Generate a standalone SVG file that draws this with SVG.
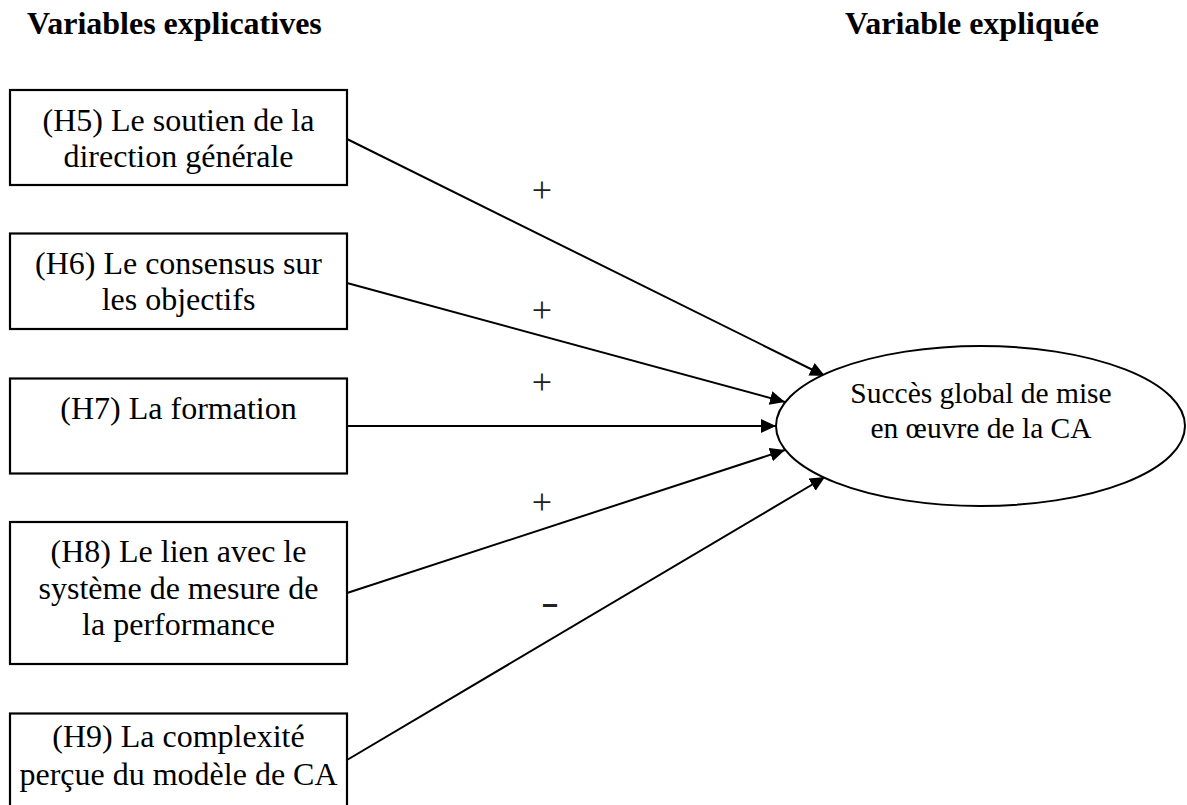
<svg xmlns="http://www.w3.org/2000/svg" width="1187" height="805" viewBox="0 0 1187 805">
  <style>
    .title { font-family: "Liberation Serif", "Times New Roman", serif; font-size: 32px; font-weight: bold; fill: #000; }
    .label { font-family: "Liberation Serif", "Times New Roman", serif; font-size: 32px; fill: #000; text-anchor: middle; }
    .ell-label { font-family: "Liberation Serif", "Times New Roman", serif; font-size: 29.5px; fill: #000; text-anchor: middle; }
    .sign { font-family: "Liberation Serif", "Times New Roman", serif; font-size: 36px; fill: #222; text-anchor: middle; }
    .box { fill: #fff; stroke: #000; stroke-width: 2.2; }
    .edge { fill: none; stroke: #000; stroke-width: 2; marker-end: url(#arrow); }
  </style>
  <defs>
    <marker id="arrow" markerUnits="userSpaceOnUse" markerWidth="17" markerHeight="15" refX="15" refY="7" orient="auto">
      <path d="M0,0 L15,7 L0,14 z" fill="#000"/>
    </marker>
  </defs>
  <rect width="1187" height="805" fill="#fff"/>

  <!-- column headings -->
  <text class="title" x="27" y="34">Variables explicatives</text>
  <text class="title" x="845" y="34">Variable expliquée</text>

  <!-- connectors -->
  <g id="connectors">
    <line class="edge" x1="347" y1="139" x2="825" y2="376"/>
    <line class="edge" x1="347" y1="283" x2="785" y2="402"/>
    <line class="edge" x1="347" y1="426" x2="776" y2="426"/>
    <line class="edge" x1="347" y1="593" x2="785" y2="450"/>
    <line class="edge" x1="347" y1="760" x2="825" y2="477"/>
    <text class="sign" x="542" y="202">+</text>
    <text class="sign" x="542" y="322">+</text>
    <text class="sign" x="542" y="394">+</text>
    <text class="sign" x="542" y="514">+</text>
    <text class="sign" font-weight="bold" font-size="36px" fill="#000" transform="translate(550,613.5) scale(1.5,1)" x="0" y="0">-</text>
  </g>

  <!-- explanatory variables -->
  <g id="h5">
    <rect class="box" x="10" y="90" width="337" height="95"/>
    <text class="label" x="178.5" y="131">(H5) Le soutien de la</text>
    <text class="label" x="178.5" y="166.5">direction générale</text>
  </g>
  <g id="h6">
    <rect class="box" x="10" y="233.5" width="337" height="95.5"/>
    <text class="label" x="178.5" y="274">(H6) Le consensus sur</text>
    <text class="label" x="178.5" y="309.5">les objectifs</text>
  </g>
  <g id="h7">
    <rect class="box" x="10" y="378.5" width="337" height="95"/>
    <text class="label" x="178.5" y="418.5">(H7) La formation</text>
  </g>
  <g id="h8">
    <rect class="box" x="10" y="522" width="337" height="142"/>
    <text class="label" x="178.5" y="562">(H8) Le lien avec le</text>
    <text class="label" x="178.5" y="598.5">système de mesure de</text>
    <text class="label" x="178.5" y="635">la performance</text>
  </g>
  <g id="h9">
    <rect class="box" x="10" y="713.5" width="337" height="100"/>
    <text class="label" x="178.5" y="747">(H9) La complexité</text>
    <text class="label" x="178.5" y="785">perçue du modèle de CA</text>
  </g>

  <!-- explained variable -->
  <g id="success">
    <ellipse cx="980.5" cy="426" rx="204.5" ry="80" fill="#fff" stroke="#000" stroke-width="2"/>
    <text class="ell-label" x="981" y="403">Succès global de mise</text>
    <text class="ell-label" x="981" y="438">en œuvre de la CA</text>
  </g>
</svg>
